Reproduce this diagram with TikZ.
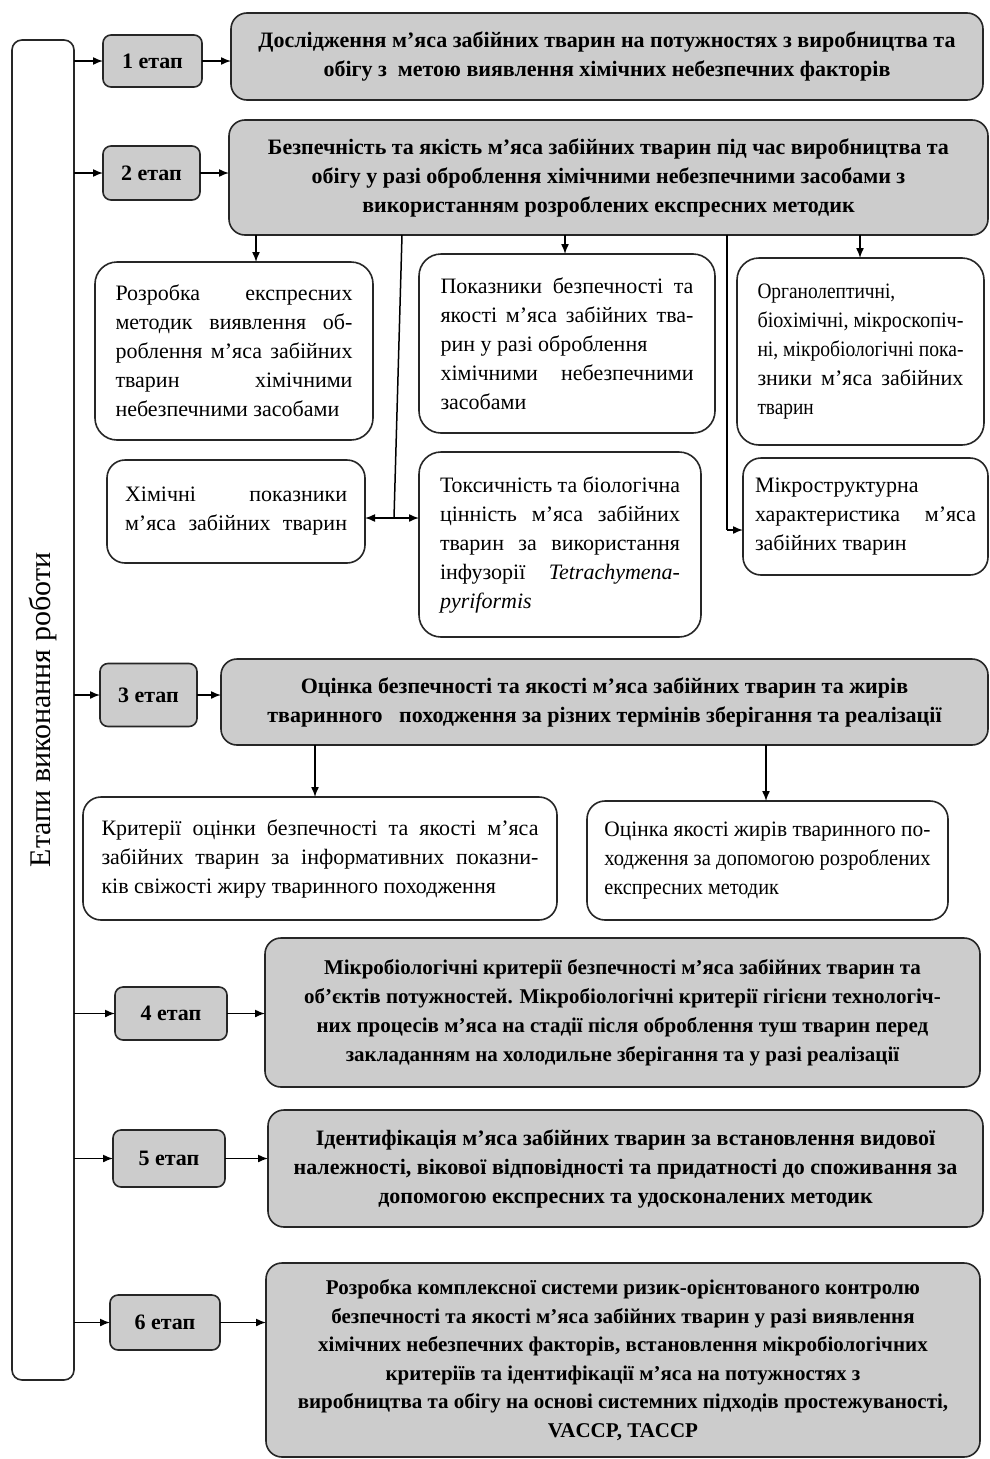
\documentclass[tikz,border=0pt]{standalone}
\usepackage{fontspec}
\setmainfont{Liberation Serif}
\usetikzlibrary{arrows.meta,calc}
\newsavebox\jlbox
\newcommand\jl[2]{\sbox\jlbox{#2}\ifdim\wd\jlbox>#1\relax\resizebox{#1}{\height}{\usebox\jlbox}\else\makebox[#1][s]{#2}\fi}
\tikzset{
 base/.style={draw=black!85, line width=1.6pt, rectangle, inner sep=0pt, outer sep=0pt},
 stagebox/.style={base, fill=gray!40, rounded corners=8pt, font=\bfseries\fontsize{22}{26}\selectfont},
 mainbox/.style={base, fill=gray!40, rounded corners=16pt, align=center, font=\bfseries\fontsize{22}{29}\selectfont},
 subbox/.style={base, fill=white, rounded corners=22pt, align=left, font=\fontsize{22}{29}\selectfont},
 arr/.style={-{Latex[length=10pt,width=8pt]}, line width=1.5pt},
 dblarr/.style={{Latex[length=10pt,width=8pt]}-{Latex[length=10pt,width=8pt]}, line width=1.5pt},
 link/.style={line width=1.5pt},
}
\begin{document}
\begin{tikzpicture}[x=1pt,y=-1pt]
\useasboundingbox (0,0) rectangle (990,1459);
\fill[white] (0,0) rectangle (990,1459);
% left box
\node[base, fill=white, rounded corners=10pt, minimum width=62, minimum height=1340,
  font=\fontsize{30}{32}\selectfont] (L) at (43,710) {\rotatebox{90}{Етапи виконання роботи}};
% stage boxes
\node[stagebox, minimum width=99, minimum height=52] (s1) at (152.5,61) {1 етап};
\node[stagebox, minimum width=97, minimum height=54] (s2) at (151.5,173) {2 етап};
\node[stagebox, minimum width=97, minimum height=63] (s3) at (148.5,695) {3 етап};
\node[stagebox, minimum width=112, minimum height=53] (s4) at (171,1013.5) {4 етап};
\node[stagebox, minimum width=112, minimum height=57] (s5) at (169,1158.5) {5 етап};
\node[stagebox, minimum width=110, minimum height=55] (s6) at (165,1322.5) {6 етап};
% main boxes
\node[mainbox, minimum width=752, minimum height=87] (b1) at (607,56.5)
 {Дослідження м’яса забійних тварин на потужностях з виробництва та\\
  обігу з\ \ метою виявлення хімічних небезпечних факторів};
\node[mainbox, minimum width=759, minimum height=115] (b2) at (608.5,177.5)
 {Безпечність та якість м’яса забійних тварин під час виробництва та\\
  обігу у разі оброблення хімічними небезпечними засобами з\\
  використанням розроблених експресних методик};
\node[mainbox, minimum width=767, minimum height=86] (b3) at (604.5,702)
 {Оцінка безпечності та якості м’яса забійних тварин та жирів\\
  тваринного\ \ \ походження за різних термінів зберігання та реалізації};
\node[mainbox, font=\bfseries\fontsize{21}{29}\selectfont, minimum width=715, minimum height=149] (b4) at (622.5,1012.5)
 {Мікробіологічні критерії безпечності м’яса забійних тварин та\\
  об’єктів потужностей. Мікробіологічні критерії гігієни технологіч-\\
  них процесів м’яса на стадії після оброблення туш тварин перед\\
  закладанням на холодильне зберігання та у разі реалізації};
\node[mainbox, minimum width=715, minimum height=117] (b5) at (625.5,1168.5)
 {Ідентифікація м’яса забійних тварин за встановлення видової\\
  належності, вікової відповідності та придатності до споживання за\\
  допомогою експресних та удосконалених методик};
\node[mainbox, font=\bfseries\fontsize{21}{28.6}\selectfont, minimum width=714, minimum height=194] (b6) at (623,1360)
 {Розробка комплексної системи ризик-орієнтованого контролю\\
  безпечності та якості м’яса забійних тварин у разі виявлення\\
  хімічних небезпечних факторів, встановлення мікробіологічних\\
  критеріїв та ідентифікації м’яса на потужностях з\\
  виробництва та обігу на основі системних підходів простежуваності,\\
  VACCP, TACCP};
% sub boxes
\node[subbox, minimum width=278, minimum height=178] (A) at (234,351)
 {\jl{237pt}{Розробка експресних}\\
  \jl{237pt}{методик виявлення об-}\\
  \jl{237pt}{роблення м’яса забійних}\\
  \jl{237pt}{тварин хімічними}\\
  небезпечними засобами};
\node[subbox, minimum width=296, minimum height=179] (B) at (567,343.5)
 {\jl{253pt}{Показники безпечності та}\\
  \jl{253pt}{якості м’яса забійних тва-}\\
  рин у разі оброблення\\
  \jl{253pt}{хімічними небезпечними}\\
  засобами};
\node[subbox, minimum width=247, minimum height=187] (C) at (860.5,351.5)
 {\scalebox{0.88}[1]{Органолептичні,}\\
  \jl{206pt}{біохімічні, мікроскопіч-}\\
  \jl{206pt}{ні, мікробіологічні пока-}\\
  \jl{206pt}{зники м’яса забійних}\\
  \scalebox{0.88}[1]{тварин}};
\node[subbox, rounded corners=18pt, minimum width=258, minimum height=103] (D) at (236,511.5)
 {\jl{222pt}{Хімічні показники}\\
  \jl{222pt}{м’яса забійних тварин}};
\node[subbox, minimum width=282, minimum height=185] (E) at (560,544.5)
 {\jl{240pt}{Токсичність та біологічна}\\
  \jl{240pt}{цінність м’яса забійних}\\
  \jl{240pt}{тварин за використання}\\
  \jl{240pt}{інфузорії \textit{Tetrachymena-}}\\
  \textit{pyriformis}};
\node[subbox, rounded corners=18pt, minimum width=245, minimum height=117] (F) at (865.5,516.5)
 {Мікроструктурна\\
  \jl{221pt}{характеристика м’яса}\\
  забійних тварин};
\node[subbox, rounded corners=18pt, minimum width=474, minimum height=123] (G) at (320,858.5)
 {\jl{437pt}{Критерії оцінки безпечності та якості м’яса}\\
  \jl{437pt}{забійних тварин за інформативних показни-}\\
  ків свіжості жиру тваринного походження};
\node[subbox, rounded corners=18pt, minimum width=361, minimum height=119] (H) at (767.5,860.5)
 {\jl{326pt}{Оцінка якості жирів тваринного по-}\\
  \jl{326pt}{ходження за допомогою розроблених}\\
  \scalebox{0.92}[1]{експресних методик}};
% helper coordinates
\coordinate (c1) at (256,0);
\coordinate (c2) at (565,0);
\coordinate (c3) at (860,0);
\coordinate (c4) at (402,0);
\coordinate (j1) at (394,518);
\coordinate (j2) at (727,530);
\coordinate (c5) at (315,0);
\coordinate (c6) at (766,0);
% left to stages
\foreach \s in {s1,s2,s3,s4,s5,s6}
  \draw[arr] (L.east |- \s.west) -- (\s.west);
% stages to main boxes
\draw[arr] (s1.east) -- (s1.east -| b1.west);
\draw[arr] (s2.east) -- (s2.east -| b2.west);
\draw[arr] (s3.east) -- (s3.east -| b3.west);
\draw[arr] (s4.east) -- (s4.east -| b4.west);
\draw[arr] (s5.east) -- (s5.east -| b5.west);
\draw[arr] (s6.east) -- (s6.east -| b6.west);
% stage 2 children
\draw[arr] (b2.south -| c1) -- (A.north -| c1);
\draw[arr] (b2.south -| c2) -- (B.north -| c2);
\draw[arr] (b2.south -| c3) -- (C.north -| c3);
\draw[link] (b2.south -| c4) -- (j1);
\draw[dblarr] (D.east |- j1) -- (E.west |- j1);
\draw[link] (b2.south -| j2) -- (j2);
\draw[arr] (j2) -- (F.west |- j2);
% stage 3 children
\draw[arr] (b3.south -| c5) -- (G.north -| c5);
\draw[arr] (b3.south -| c6) -- (H.north -| c6);
\end{tikzpicture}
\end{document}
